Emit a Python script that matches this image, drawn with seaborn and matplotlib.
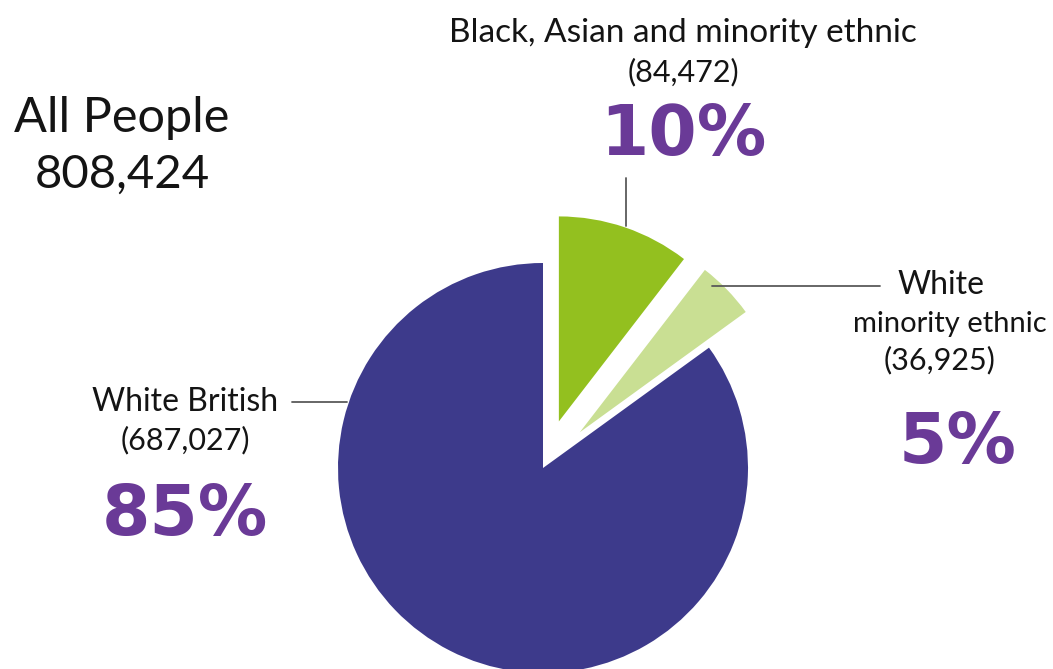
import matplotlib.pyplot as plt
import seaborn as sns

# 데이터
groups = ["Black, Asian and minority ethnic", "White\nminority ethnic", "White British"]
counts = [84472, 36925, 687027]
colours = ["#93c01f", "#c9df93", "#3d3a8b"]
total = sum(counts)

sns.set_style("white")
plt.rcParams["font.family"] = ["Lato", "DejaVu Sans"]
plt.rcParams["text.color"] = "#141414"

W, H = 1053, 669
PURPLE = "#6a3a97"
LINE = "#5a5a5a"

fig = plt.figure(figsize=(W / 100, H / 100), dpi=100)

# 파이 (반지름 1 단위)
ax = fig.add_axes([0, 0, 1, 1])
ax.pie(counts, colors=colours, startangle=90, counterclock=False, radius=1,
       explode=[0.24, 0.25, 0], wedgeprops=dict(linewidth=0))
cx, cy, r = 543, 468, 205
ax.set_xlim(-cx / r, (W - cx) / r)
ax.set_ylim((cy - H) / r, cy / r)
ax.set_aspect("equal")
ax.axis("off")

# 글자·지시선 (픽셀 좌표)
ov = fig.add_axes([0, 0, 1, 1])
ov.set_xlim(0, W)
ov.set_ylim(H, 0)
ov.axis("off")

ov.text(122, 118, "All People", fontsize=35, ha="center", va="center")
ov.text(122, 175, f"{total:,}", fontsize=34, ha="center", va="center")

pct = [f"{round(100 * c / total)}%" for c in counts]
name_pos = [[(683, 33)], [(941, 285), (950, 324)], [(185, 402)]]
name_size = [[24], [23, 21], [23]]
count_pos = [(683, 72), (940, 360), (185, 440)]
pct_pos = [(683, 135), (958, 443), (185, 515)]

for g, c, p, npos, ns, cp, pp in zip(groups, counts, pct, name_pos, name_size,
                                     count_pos, pct_pos):
    for line, (x, y), fs in zip(g.split("\n"), npos, ns):
        ov.text(x, y, line, fontsize=fs, ha="center", va="center")
    ov.text(*cp, f"({c:,})", fontsize=22, ha="center", va="center")
    ov.text(*pp, p, fontsize=50, fontweight="bold", color=PURPLE,
            family=["DejaVu Sans"], ha="center", va="center")

ov.plot([626, 626], [178, 226], color=LINE, lw=1.3)
ov.plot([712, 880], [286, 286], color=LINE, lw=1.3)
ov.plot([292, 347], [402, 402], color=LINE, lw=1.3)

fig.savefig("out.png", dpi=100)
